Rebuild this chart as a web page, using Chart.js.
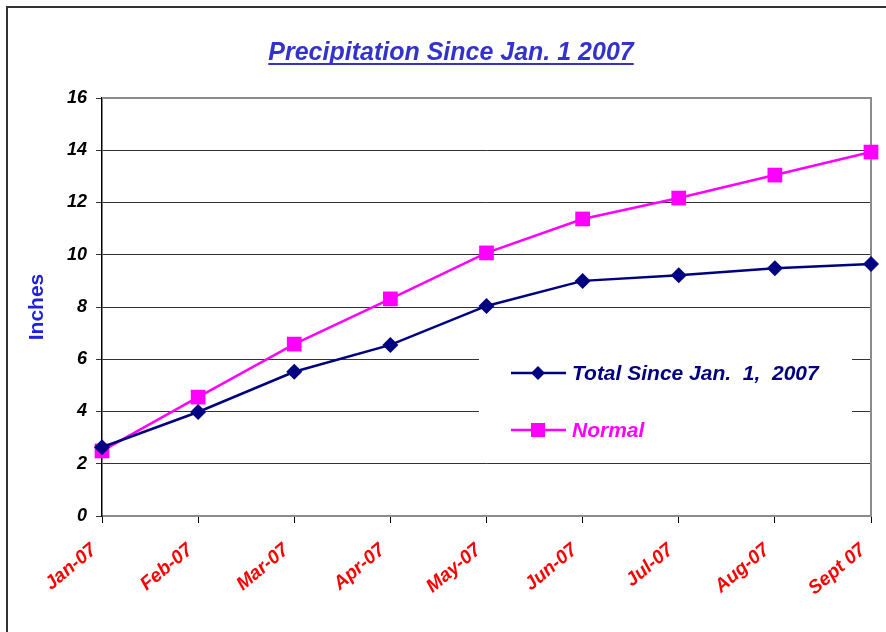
<!DOCTYPE html>
<html>
<head>
<meta charset="utf-8">
<script src="https://cdn.jsdelivr.net/npm/chart.js@4/dist/chart.umd.min.js"></script>
<style>
  html, body { margin: 0; padding: 0; background: #fff; }
  #wrap { position: relative; width: 886px; height: 632px; }
  #frame {
    position: absolute; left: 6px; top: 6px; width: 900px; height: 700px;
    border-left: 2px solid #333; border-top: 2px solid #333; box-sizing: border-box;
    pointer-events: none;
  }
</style>
</head>
<body>
<div id="wrap">
  <canvas id="c" width="886" height="632"></canvas>
  <div id="frame"></div>
</div>
<script>
// values
const MONTHS = ["Jan-07", "Feb-07", "Mar-07", "Apr-07", "May-07", "Jun-07", "Jul-07", "Aug-07", "Sept 07"];
const TOTAL = [2.63, 3.98, 5.52, 6.55, 8.04, 9.0, 9.22, 9.48, 9.65];
const NORMAL = [2.49, 4.55, 6.58, 8.31, 10.07, 11.37, 12.17, 13.05, 13.93];
const Y_TICKS = [0, 2, 4, 6, 8, 10, 12, 14, 16];

const TITLE = "Precipitation Since Jan. 1 2007";
const NAVY = "#000080";
const MAGENTA = "#ff00ff";
const FAMILY = '"Liberation Sans", Arial, sans-serif';

// Underlined title above the plot
const titlePlugin = {
  id: "uTitle",
  afterDraw(chart) {
    const { ctx } = chart;
    ctx.save();
    ctx.font = `italic bold 25px ${FAMILY}`;
    ctx.fillStyle = "#3333cc";
    ctx.textAlign = "center";
    ctx.textBaseline = "alphabetic";
    const cx = 451, by = 60;
    ctx.fillText(TITLE, cx, by);
    const w = ctx.measureText(TITLE).width;
    ctx.fillRect(cx - w / 2, by + 3, w, 2);
    ctx.restore();
  },
};

// Gray frame on top/right of the plot area (Excel style)
const plotFrame = {
  id: "plotFrame",
  beforeDatasetsDraw(chart) {
    const { ctx, chartArea: a } = chart;
    ctx.save();
    ctx.strokeStyle = "#8c8c8c";
    ctx.lineWidth = 2;
    ctx.beginPath();
    ctx.moveTo(a.left, a.top);
    ctx.lineTo(a.right, a.top);
    ctx.lineTo(a.right, a.bottom);
    ctx.stroke();
    ctx.restore();
  },
};

// Legend inside the plot area with white background covering the grid
const innerLegend = {
  id: "innerLegend",
  afterDatasetsDraw(chart) {
    const { ctx } = chart;
    ctx.save();
    ctx.fillStyle = "#fff";
    ctx.fillRect(479, 343, 373, 112);
    const items = [
      { label: "Total Since Jan.  1,  2007", color: NAVY, shape: "diamond", y: 373 },
      { label: "Normal", color: MAGENTA, shape: "square", y: 430 },
    ];
    items.forEach((it) => {
      ctx.strokeStyle = it.color;
      ctx.fillStyle = it.color;
      ctx.lineWidth = 2.5;
      ctx.beginPath();
      ctx.moveTo(511, it.y);
      ctx.lineTo(566, it.y);
      ctx.stroke();
      ctx.beginPath();
      if (it.shape === "diamond") {
        ctx.moveTo(538, it.y - 7);
        ctx.lineTo(545, it.y);
        ctx.lineTo(538, it.y + 7);
        ctx.lineTo(531, it.y);
        ctx.closePath();
        ctx.fill();
      } else {
        ctx.fillRect(531, it.y - 7, 14, 14);
      }
      ctx.font = `italic bold 21px ${FAMILY}`;
      ctx.textBaseline = "middle";
      ctx.textAlign = "left";
      ctx.fillText(it.label, 572, it.y + 1);
    });
    ctx.restore();
  },
};

new Chart(document.getElementById("c"), {
  type: "line",
  data: {
    labels: MONTHS,
    datasets: [
      {
        label: "Total Since Jan.  1,  2007",
        data: TOTAL,
        borderColor: NAVY,
        backgroundColor: NAVY,
        borderWidth: 2.5,
        pointStyle: "rectRot",
        pointRadius: 8,
        pointBorderWidth: 0,
        tension: 0,
      },
      {
        label: "Normal",
        data: NORMAL,
        borderColor: MAGENTA,
        backgroundColor: MAGENTA,
        borderWidth: 2.5,
        pointStyle: "rect",
        pointRadius: 10.4,
        pointBorderWidth: 0,
        tension: 0,
      },
    ],
  },
  options: {
    responsive: false,
    animation: false,
    clip: false,
    layout: { padding: { top: 98, right: 15, left: 0, bottom: 0 } },
    plugins: {
      legend: { display: false },
      title: { display: false },
      tooltip: { enabled: false },
    },
    scales: {
      x: {
        offset: false,
        afterFit(scale) {
          scale.height = 116;
          // keep the plot edges where the reference has them
          scale.paddingLeft = 0;
          scale.paddingRight = 0;
        },
        grid: { drawOnChartArea: false, drawTicks: true, tickLength: 7, color: "#000", lineWidth: 1 },
        border: { color: "#8c8c8c", width: 2 },
        ticks: {
          autoSkip: false,
          minRotation: 40,
          maxRotation: 40,
          padding: 16,
          labelOffset: -8,
          color: "#ff0000",
          font: { family: FAMILY, size: 19, weight: "bold", style: "italic" },
        },
      },
      y: {
        min: 0,
        max: 16,
        afterFit(scale) { scale.width = 102; },
        afterBuildTicks(scale) { scale.ticks = Y_TICKS.map((v) => ({ value: v })); },
        grid: { color: "#333", lineWidth: 1, drawTicks: true, tickLength: 6 },
        border: { color: "#000", width: 1.5 },
        ticks: {
          padding: 9,
          color: "#000",
          font: { family: FAMILY, size: 18, weight: "bold", style: "italic" },
        },
        title: {
          display: true,
          text: "Inches",
          color: "#1f1fe0",
          padding: { top: 25, bottom: 0 },
          font: { family: FAMILY, size: 21, weight: "bold" },
        },
      },
    },
  },
  plugins: [plotFrame, innerLegend, titlePlugin],
});
</script>
</body>
</html>
